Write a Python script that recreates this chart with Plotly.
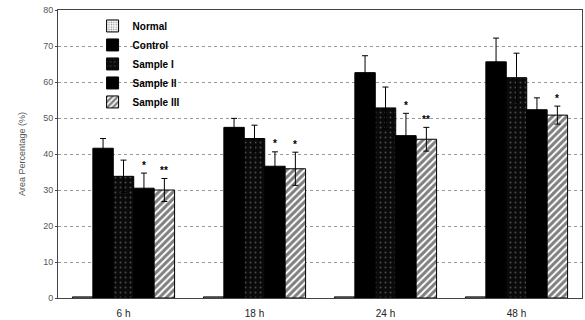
import plotly.graph_objects as go

categories = ["6 h", "18 h", "24 h", "48 h"]
series_names = ["Normal", "Control", "Sample I", "Sample II", "Sample III"]
normal = [0.3, 0.3, 0.3, 0.3]
control = [41.6, 47.4, 62.6, 65.6]
sample1 = [33.8, 44.3, 52.8, 61.2]
sample2 = [30.5, 36.6, 45.1, 52.3]
sample3 = [30.0, 35.9, 44.1, 50.8]
err_normal = [0, 0, 0, 0]
err_control = [2.7, 2.5, 4.7, 6.6]
err_sample1 = [4.5, 3.7, 5.8, 6.8]
err_sample2 = [4.2, 4.0, 6.2, 3.3]
err_sample3 = [3.2, 4.6, 3.3, 2.5]
sig_sample2 = ["*", "*", "*", ""]
sig_sample3 = ["**", "*", "**", "*"]

values = [normal, control, sample1, sample2, sample3]
errors = [err_normal, err_control, err_sample1, err_sample2, err_sample3]

patterns = [
    dict(shape=".", bgcolor="white", fgcolor="#222", size=3, solidity=0.3),
    dict(shape="", bgcolor="black", fgcolor="black"),
    dict(shape=".", bgcolor="#0a0a0a", fgcolor="#8a8a8a", size=5, solidity=0.12),
    dict(shape="", bgcolor="black", fgcolor="black"),
    dict(shape="/", bgcolor="white", fgcolor="black", size=5, solidity=0.6),
]
colors = ["white", "black", "black", "black", "white"]

fig = go.Figure()
for name, v, e, pat, col in zip(series_names, values, errors, patterns, colors):
    fig.add_trace(go.Bar(
        x=categories, y=v, name=name,
        marker=dict(color=col, pattern=pat, line=dict(color="black", width=1)),
        error_y=dict(type="data", array=e, visible=any(x > 0 for x in e),
                     color="black", thickness=1, width=3),
    ))

plot_w = 585 - 58 - 3
cat_w = plot_w / len(categories)
bargap = 0.22
bar_w = cat_w * (1 - bargap) / 5

annotations = []
for idx, (vals, errs, sig) in enumerate([(sample2, err_sample2, sig_sample2), (sample3, err_sample3, sig_sample3)]):
    offset = (idx + 1) * bar_w
    for c, v, e, s in zip(categories, vals, errs, sig):
        if s:
            annotations.append(dict(x=c, y=v + e, text="<b>" + s + "</b>", showarrow=False, xshift=offset,
                                    yshift=8, font=dict(family="Arial", size=10, color="#000000")))

fig.update_layout(
    width=585, height=320,
    margin=dict(l=58, r=3, t=10, b=22),
    paper_bgcolor="white", plot_bgcolor="white",
    barmode="group", bargap=bargap, bargroupgap=0,
    font=dict(family="Arial", size=9, color="#555"),
    legend=dict(x=0.066, y=0.995, xanchor="left", yanchor="top",
                font=dict(family="Arial", size=10, color="black", weight="bold"),
                bgcolor="rgba(255,255,255,0)", tracegroupgap=0, itemwidth=30),
    annotations=annotations,
    xaxis=dict(showline=True, linecolor="#444", linewidth=1, mirror=True,
               ticks="", ticklabelstandoff=6, automargin=False,
               tickfont=dict(family="Arial", size=10, color="#222")),
    yaxis=dict(range=[0, 80], dtick=10, showline=True, linecolor="#444", linewidth=1, mirror=True,
               showgrid=True, gridcolor="#999", griddash="dot", gridwidth=1,
               ticks="outside", ticklen=2, tickcolor="#444", automargin=False,
               tickfont=dict(family="Arial", size=9, color="#555"),
               title=dict(text="Area Percentage (%)", font=dict(family="Arial", size=9, color="#555"), standoff=16),
               zeroline=False),
)

fig.write_html("out.html")
